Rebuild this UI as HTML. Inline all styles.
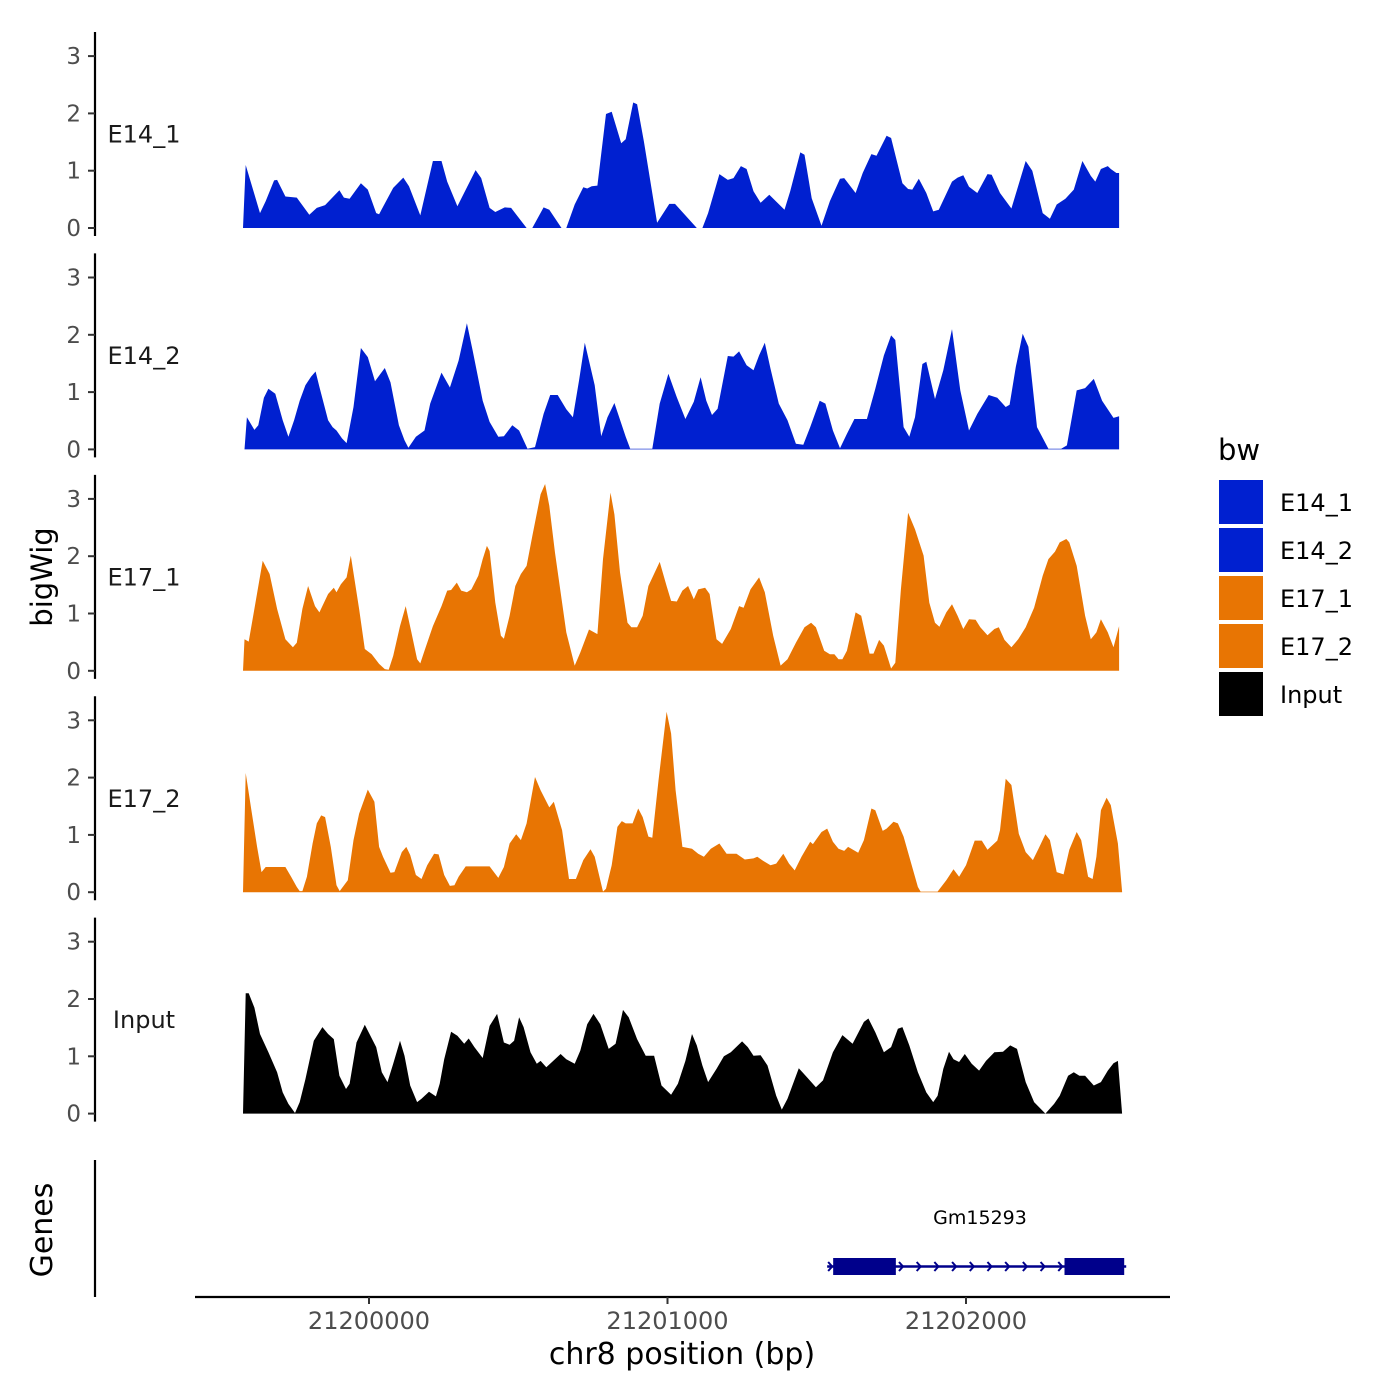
<!DOCTYPE html>
<html><head><meta charset="utf-8"><style>
body{margin:0;background:#fff}
svg{display:block;font-family:"DejaVu Sans","Liberation Sans",sans-serif}
</style></head><body>
<svg id="chart" width="1400" height="1400" viewBox="0 0 1400 1400"></svg>
<script>
const regionStart = 21199568;
const xTicks = [21200000, 21201000, 21202000];
const yTicks = [0, 1, 2, 3];
const trackNames = ["E14_1", "E14_2", "E17_1", "E17_2", "Input"];
const trackColors = ["#0020d0", "#0020d0", "#e87503", "#e87503", "#000000"];
const e14_1_pos = [10,19,67,86,114,124,152,190,232,257,285,333,348,367,405,428,456,466,513,547,566,604,646,675,694,728,789,808,836,855,887,908,960,979,1017,1036,1077,1093,1121,1150,1163,1178,1197,1226,1245,1277,1292,1317,1330,1353,1397,1438,1457,1530,1549,1568,1606,1634,1653,1678,1697,1720,1744,1773,1824,1843,1877,1891,1915,1948,1976,2010,2024,2062,2086,2115,2132,2166,2181,2219,2238,2252,2274,2299,2322,2341,2385,2404,2423,2442,2470,2504,2518,2546,2584,2632,2654,2689,2713,2736,2765,2793,2822,2850,2865,2884,2907,2917,2936,2945];
const e14_1_val = [0,1.10,0.26,0.47,0.83,0.84,0.55,0.53,0.23,0.35,0.40,0.66,0.53,0.51,0.78,0.67,0.26,0.24,0.70,0.88,0.73,0.22,1.17,1.17,0.81,0.38,1.01,0.87,0.35,0.28,0.36,0.35,0,0,0.36,0.32,0,0,0.41,0.71,0.69,0.73,0.74,1.99,2.03,1.48,1.55,2.19,2.16,1.51,0.09,0.42,0.42,0,0,0.26,0.94,0.84,0.87,1.08,1.03,0.64,0.44,0.58,0.32,0.64,1.32,1.28,0.52,0.04,0.47,0.86,0.87,0.61,0.96,1.29,1.26,1.61,1.57,0.78,0.68,0.67,0.86,0.61,0.29,0.32,0.81,0.88,0.92,0.72,0.61,0.94,0.93,0.61,0.34,1.17,1.00,0.26,0.16,0.41,0.51,0.67,1.17,0.91,0.81,1.03,1.08,1.03,0.96,0.96];
const e14_2_pos = [15,23,48,61,80,95,118,143,162,181,200,219,238,253,266,295,310,323,342,357,380,405,428,452,485,504,532,551,564,589,618,637,675,703,732,760,779,813,836,865,884,912,935,963,988,1017,1039,1064,1093,1115,1136,1155,1188,1210,1231,1254,1292,1307,1381,1406,1435,1463,1492,1520,1543,1562,1581,1600,1634,1653,1672,1697,1720,1739,1758,1777,1805,1834,1862,1887,1910,1942,1961,1986,2010,2033,2058,2100,2128,2157,2181,2195,2223,2242,2261,2286,2299,2328,2356,2385,2413,2442,2470,2508,2537,2565,2578,2599,2622,2641,2670,2708,2751,2770,2803,2831,2860,2888,2926,2945];
const e14_2_val = [0,0.56,0.34,0.42,0.90,1.06,0.97,0.51,0.22,0.51,0.85,1.12,1.27,1.36,1.09,0.51,0.39,0.33,0.19,0.11,0.74,1.77,1.61,1.19,1.42,1.17,0.42,0.16,0.03,0.22,0.33,0.80,1.34,1.08,1.55,2.20,1.73,0.85,0.48,0.22,0.23,0.42,0.33,0.01,0.04,0.62,0.95,0.95,0.70,0.56,1.21,1.86,1.12,0.23,0.56,0.81,0.22,0.01,0.01,0.80,1.32,0.91,0.53,0.83,1.26,0.85,0.60,0.71,1.63,1.62,1.71,1.47,1.38,1.64,1.86,1.41,0.80,0.51,0.10,0.08,0.39,0.85,0.80,0.33,0.02,0.27,0.53,0.53,1.06,1.64,1.99,1.91,0.39,0.22,0.56,1.49,1.53,0.88,1.38,2.10,1.03,0.33,0.62,0.95,0.90,0.74,0.78,1.44,2.02,1.79,0.39,0.01,0.01,0.07,1.03,1.07,1.23,0.85,0.55,0.58];
const e17_1_pos = [10,15,29,48,76,99,124,152,177,190,209,228,251,266,295,314,323,338,357,371,399,418,441,466,485,498,513,536,555,574,593,604,618,646,675,694,707,726,741,760,775,798,813,827,836,855,874,884,903,922,941,960,979,1007,1022,1036,1055,1093,1121,1140,1169,1197,1216,1241,1254,1273,1298,1311,1330,1349,1368,1406,1429,1444,1463,1482,1501,1520,1535,1558,1573,1596,1615,1644,1672,1687,1710,1739,1758,1786,1811,1834,1862,1891,1913,1929,1957,1976,1991,2005,2018,2033,2062,2081,2109,2122,2141,2157,2181,2195,2214,2238,2261,2290,2309,2328,2343,2366,2385,2404,2423,2442,2464,2480,2504,2527,2542,2561,2584,2607,2632,2660,2689,2708,2730,2746,2768,2778,2803,2831,2850,2869,2884,2907,2926,2945];
const e17_1_val = [0,0.55,0.51,1.08,1.92,1.69,1.08,0.55,0.41,0.49,1.08,1.48,1.13,1.02,1.34,1.45,1.37,1.51,1.63,2.01,1.08,0.38,0.29,0.12,0.03,0.02,0.26,0.78,1.13,0.67,0.20,0.13,0.35,0.78,1.13,1.40,1.41,1.54,1.40,1.37,1.42,1.66,1.95,2.18,2.09,1.19,0.61,0.56,0.96,1.48,1.69,1.83,2.35,3.08,3.26,2.88,2.06,0.67,0.09,0.32,0.72,0.64,1.95,3.11,2.73,1.72,0.84,0.76,0.76,0.96,1.48,1.90,1.48,1.22,1.21,1.40,1.48,1.25,1.42,1.45,1.34,0.55,0.47,0.73,1.13,1.10,1.42,1.63,1.37,0.61,0.09,0.20,0.49,0.76,0.84,0.76,0.35,0.29,0.29,0.20,0.20,0.35,1.02,0.96,0.30,0.30,0.54,0.44,0.04,0.14,1.42,2.76,2.47,2.01,1.19,0.84,0.77,1.02,1.16,0.96,0.73,0.90,0.89,0.76,0.62,0.73,0.76,0.54,0.41,0.55,0.76,1.10,1.66,1.95,2.08,2.24,2.30,2.24,1.83,0.96,0.55,0.67,0.90,0.67,0.41,0.78];
const e17_2_pos = [10,19,38,57,72,86,152,171,190,200,209,224,243,257,272,285,304,323,334,361,380,399,428,450,466,479,504,517,542,557,570,589,608,627,650,665,684,703,718,732,756,836,865,884,903,925,941,960,988,1007,1036,1051,1079,1102,1125,1150,1174,1188,1216,1226,1245,1264,1279,1292,1315,1334,1349,1368,1381,1402,1429,1444,1459,1482,1514,1535,1554,1577,1606,1630,1663,1691,1720,1733,1752,1777,1796,1820,1839,1858,1881,1910,1919,1948,1967,1986,2005,2024,2037,2071,2090,2115,2128,2153,2166,2189,2204,2223,2242,2271,2280,2337,2366,2390,2409,2432,2461,2485,2504,2537,2546,2565,2584,2609,2632,2656,2675,2698,2713,2736,2759,2778,2803,2818,2841,2856,2869,2884,2903,2917,2941,2955];
const e17_2_val = [0,2.08,1.43,0.79,0.35,0.44,0.44,0.27,0.09,0.02,0.02,0.27,0.85,1.20,1.34,1.31,0.79,0.12,0.02,0.21,0.91,1.37,1.79,1.58,0.79,0.62,0.34,0.35,0.70,0.79,0.65,0.30,0.23,0.47,0.67,0.66,0.30,0.11,0.12,0.27,0.45,0.45,0.25,0.44,0.85,1.01,0.91,1.20,2.01,1.78,1.48,1.58,1.08,0.23,0.23,0.56,0.75,0.62,0.01,0.06,0.47,1.14,1.24,1.20,1.20,1.46,1.31,0.97,0.95,1.95,3.15,2.77,1.78,0.79,0.76,0.67,0.62,0.76,0.85,0.67,0.67,0.57,0.59,0.62,0.55,0.47,0.50,0.67,0.50,0.38,0.62,0.88,0.84,1.05,1.11,0.88,0.76,0.72,0.79,0.69,0.91,1.46,1.43,1.07,1.11,1.23,1.20,0.97,0.62,0.09,0.01,0.01,0.21,0.40,0.27,0.47,0.90,0.90,0.74,0.90,1.08,1.98,1.87,1.02,0.70,0.56,0.76,1.01,0.91,0.35,0.31,0.74,1.05,0.91,0.27,0.23,0.62,1.43,1.65,1.52,0.85,0.01];
const input_pos = [10,19,29,48,67,95,124,143,162,184,200,219,247,276,295,314,333,355,367,390,418,456,475,494,513,536,551,570,593,608,633,656,669,684,707,728,751,766,785,813,836,861,884,903,918,935,950,973,994,1007,1026,1045,1074,1093,1121,1140,1163,1184,1207,1235,1258,1283,1302,1330,1359,1387,1412,1444,1467,1492,1514,1530,1549,1568,1596,1621,1644,1682,1701,1720,1744,1767,1796,1815,1834,1872,1900,1929,1953,1986,2018,2052,2090,2105,2128,2157,2181,2204,2219,2242,2271,2299,2322,2337,2356,2375,2390,2409,2428,2451,2476,2499,2527,2556,2580,2603,2632,2660,2698,2727,2746,2774,2793,2812,2831,2860,2884,2907,2926,2941,2955];
const input_val = [0,2.10,2.10,1.85,1.39,1.07,0.72,0.37,0.17,0.01,0.20,0.60,1.27,1.51,1.39,1.30,0.66,0.43,0.52,1.24,1.55,1.16,0.72,0.55,0.87,1.27,1.01,0.49,0.20,0.26,0.38,0.30,0.52,0.95,1.43,1.36,1.22,1.31,1.16,0.97,1.53,1.74,1.24,1.20,1.27,1.68,1.51,1.07,0.87,0.92,0.81,0.90,1.04,0.95,0.87,1.10,1.56,1.74,1.56,1.13,1.22,1.81,1.68,1.30,1.01,1.01,0.49,0.33,0.52,0.92,1.39,1.19,0.84,0.55,0.78,1.00,1.07,1.26,1.16,1.01,1.02,0.84,0.31,0.07,0.26,0.79,0.63,0.46,0.58,1.07,1.37,1.22,1.60,1.66,1.42,1.07,1.16,1.48,1.51,1.19,0.72,0.37,0.20,0.31,0.78,1.08,0.95,0.90,1.04,0.87,0.75,0.92,1.07,1.08,1.19,1.13,0.55,0.20,0,0.17,0.31,0.66,0.72,0.66,0.66,0.49,0.55,0.75,0.88,0.92,0];
const allPos = [e14_1_pos, e14_2_pos, e17_1_pos, e17_2_pos, input_pos];
const allVal = [e14_1_val, e14_2_val, e17_1_val, e17_2_val, input_val];
const geneName = "Gm15293";
const geneStart = 21201555, geneEnd = 21202530;
const exonStarts = [21201555, 21202330];
const exonEnds = [21201765, 21202530];

const NS = "http://www.w3.org/2000/svg";
const svg = document.getElementById("chart");
function xs(bp){ return 369 + (bp - 21200000) * 0.2985; }
function ys(track, v){ return 228 + track * 221.4 - v * 57.3; }
function mk(tag, attrs, parent){
  const e = document.createElementNS(NS, tag);
  for (const k in attrs) e.setAttribute(k, attrs[k]);
  (parent || svg).appendChild(e);
  return e;
}
function txt(s, attrs, parent){ const t = mk("text", attrs, parent); t.textContent = s; return t; }

for (let t = 0; t < 5; t++) {
  const g = mk("g", {});
  
  
  const pos = allPos[t], val = allVal[t];
  const base = ys(t, 0);
  let d = "M" + xs(regionStart + pos[0]).toFixed(1) + "," + base;
  for (let i = 0; i < pos.length; i++) d += " L" + xs(regionStart + pos[i]).toFixed(1) + "," + ys(t, val[i]).toFixed(1);
  d += " L" + xs(regionStart + pos[pos.length-1]).toFixed(1) + "," + base + " Z";
  const p = mk("path", {d: d, fill: trackColors[t]}, g);
  
  
  const ax = mk("line", {x1: 95, x2: 95, y1: ys(t, 3.42), y2: ys(t, -0.14), stroke: "#000", "stroke-width": 2.2}, g);
  
  
  yTicks.forEach(v => {
    const y = ys(t, v);
    const tk = mk("line", {x1: 88, x2: 95, y1: y, y2: y, stroke: "#333", "stroke-width": 2}, g);
    
    
    const lb = txt(String(v), {x: 81, y: y + 8, "text-anchor": "end", "font-size": 23, fill: "#4d4d4d"}, g);
    
    
  });
  const tl = txt(trackNames[t], {x: 144, y: ys(t, 1.63) + 8, "text-anchor": "middle", "font-size": 24, fill: "#1a1a1a"}, g);
  
  
}

const yt = txt("bigWig", {x: 0, y: 0, transform: "translate(52,577) rotate(-90)", "text-anchor": "middle", "font-size": 29, fill: "#000"});



const gg = mk("g", {});


const gt = txt("Genes", {x: 0, y: 0, transform: "translate(52,1230) rotate(-90)", "text-anchor": "middle", "font-size": 30, fill: "#000"}, gg);


const gax = mk("line", {x1: 95, x2: 95, y1: 1160, y2: 1297, stroke: "#000", "stroke-width": 2.2}, gg);


const gl = mk("line", {x1: xs(geneStart) - 6, x2: xs(geneEnd) + 2, y1: 1266.5, y2: 1266.5, stroke: "#00008b", "stroke-width": 2.5}, gg);


for (let x = xs(geneStart) - 2; x < xs(geneEnd) + 4; x += 17.7) {
  const ar = mk("path", {d: `M${x-3},1262 L${x+1},1266.5 L${x-3},1271`, fill: "none", stroke: "#00008b", "stroke-width": 2}, gg);
  
  
}
exonStarts.forEach((s, i) => {
  const r = mk("rect", {x: xs(s), y: 1258, width: xs(exonEnds[i]) - xs(s), height: 17, fill: "#00008b"}, gg);
  
  
});
const gn = txt(geneName, {x: 980, y: 1224, "text-anchor": "middle", "font-size": 19, fill: "#000"}, gg);



const xg = mk("g", {});


const xl = mk("line", {x1: 195, x2: 1170, y1: 1297, y2: 1297, stroke: "#000", "stroke-width": 2.2}, xg);


xTicks.forEach(v => {
  const x = xs(v);
  const tk = mk("line", {x1: x, x2: x, y1: 1297, y2: 1304, stroke: "#333", "stroke-width": 2}, xg);
  
  
  const lb = txt(String(v), {x: x, y: 1329, "text-anchor": "middle", "font-size": 24, fill: "#4d4d4d"}, xg);
  
  
});
const xt = txt("chr8 position (bp)", {x: 682, y: 1364, "text-anchor": "middle", "font-size": 30, fill: "#000"}, xg);



const lg = mk("g", {});


const lt = txt("bw", {x: 1218, y: 460, "font-size": 29, fill: "#000"}, lg);


trackNames.forEach((n, i) => {
  const y = 480 + i * 48;
  const r = mk("rect", {x: 1219, y: y, width: 44, height: 44, fill: trackColors[i]}, lg);
  
  
  const l = txt(n, {x: 1280, y: y + 31, "font-size": 24, fill: "#000"}, lg);
  
  
});
</script>
</body></html>
